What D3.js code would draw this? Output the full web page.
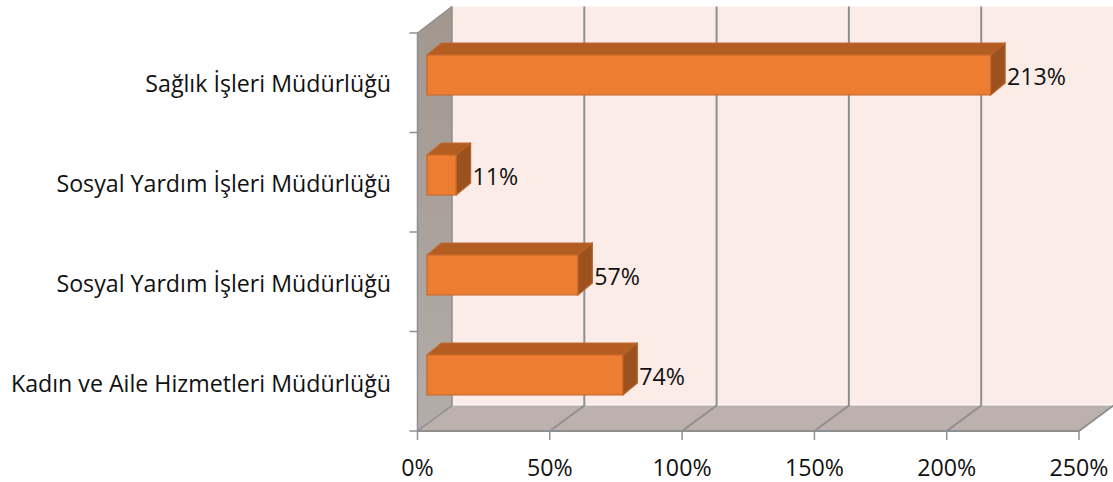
<!DOCTYPE html>
<html>
<head>
<meta charset="utf-8">
<script src="https://cdn.jsdelivr.net/npm/d3@7"></script>
<style>
  html, body { margin: 0; padding: 0; background: #fff; }
  text { font-family: "Open Sans", sans-serif; fill: #111; }
</style>
</head>
<body>
<div id="chart"></div>
<script>
// top to bottom, as in the picture
const categories = [
  "Sağlık İşleri Müdürlüğü",
  "Sosyal Yardım İşleri Müdürlüğü ",
  "Sosyal Yardım İşleri Müdürlüğü",
  "Kadın ve Aile Hizmetleri Müdürlüğü"
];
const values = [2.13, 0.11, 0.57, 0.74];
const tickValues = [0, 0.5, 1, 1.5, 2, 2.5];

const width = 1113, height = 482;
const floorY = 431, topY = 33;
const depthX = 34.5, depthY = 25.5;   // depth of the box
const barDX = 14.5, barDY = 12;       // depth of a bar
const fontSize = 23.2;

const svg = d3.select("#chart").append("svg")
  .attr("width", width).attr("height", height)
  .style("display", "block");

const x = d3.scaleLinear().domain([0, 2.5]).range([417.5, 1079]);
const y = d3.scaleBand().domain(categories).range([32, 432]);
const yTick = d3.scaleLinear().domain([0, categories.length]).range([topY, floorY]);
const poly = pts => pts.map(p => p.join(",")).join(" ");

const defs = svg.append("defs");
const wallGrad = defs.append("linearGradient").attr("id", "wall")
  .attr("x1", 0).attr("x2", 0).attr("y1", 0).attr("y2", 1);
wallGrad.append("stop").attr("offset", 0).attr("stop-color", "#a1978f");
wallGrad.append("stop").attr("offset", 1).attr("stop-color", "#b3aca8");

// back wall, floor, side wall
svg.append("rect")
  .attr("x", x(0) + depthX).attr("y", topY - depthY - 1)
  .attr("width", width - x(0) - depthX).attr("height", floorY - topY)
  .attr("fill", "#fbece8");
svg.append("polygon")
  .attr("points", poly([[x(0), floorY], [x(0) + depthX, floorY - depthY], [x(2.5) + depthX, floorY - depthY], [x(2.5), floorY]]))
  .attr("fill", "#bdb1ae");
svg.append("polygon")
  .attr("points", poly([[x(0), topY], [x(0) + depthX, topY - depthY - 1], [x(0) + depthX, floorY - depthY], [x(0), floorY]]))
  .attr("fill", "url(#wall)");

// gridlines: up the back wall and across the floor
const grid = svg.append("g").attr("fill", "none").attr("stroke", "#8f8f8f");
grid.selectAll("path").data(tickValues).join("path")
  .attr("stroke-width", d => d === 0 ? 1.5 : 2)
  .attr("d", d => d === 2.5
    ? `M${x(d)},${floorY}L${x(d) + depthX},${floorY - depthY}`
    : `M${x(d)},${floorY}L${x(d) + depthX},${floorY - depthY}L${x(d) + depthX},${topY - depthY - 1}`);

// wall and floor edges
svg.append("path")
  .attr("d", `M${x(0)},${floorY}L${x(0)},${topY}L${x(0) + depthX},${topY - depthY - 1}`)
  .attr("fill", "none").attr("stroke", "#8f8f8f").attr("stroke-width", 1.5);
svg.append("line")
  .attr("x1", x(0)).attr("x2", x(2.5)).attr("y1", floorY).attr("y2", floorY)
  .attr("stroke", "#8f8f8f").attr("stroke-width", 2);

// axis ticks
svg.append("g").attr("stroke", "#8f8f8f").attr("stroke-width", 1.5)
  .selectAll("line").data(tickValues).join("line")
  .attr("x1", d => x(d)).attr("x2", d => x(d))
  .attr("y1", floorY).attr("y2", floorY + 9);
svg.append("g").attr("stroke", "#8f8f8f").attr("stroke-width", 1.5)
  .selectAll("line").data(d3.range(categories.length + 1)).join("line")
  .attr("x1", x(0) - 8).attr("x2", x(0))
  .attr("y1", i => yTick(i)).attr("y2", i => yTick(i));

// bars
const barHeight = 40, barStart = 9.5;
const barTop = c => y(c) + y.bandwidth() / 2 - 27;
const bars = svg.append("g").selectAll("g")
  .data(categories.map((c, i) => ({ c, v: values[i] })))
  .join("g")
  .attr("stroke-width", 1.2).attr("stroke-linejoin", "round");

bars.append("polygon")
  .attr("points", d => {
    const x0 = x(0) + barStart, x1 = x(d.v) + barStart, t = barTop(d.c);
    return poly([[x0, t], [x0 + barDX, t - barDY], [x1 + barDX, t - barDY], [x1, t]]);
  })
  .attr("fill", "#b45d22").attr("stroke", "#bd6a33");
bars.append("polygon")
  .attr("points", d => {
    const x1 = x(d.v) + barStart, t = barTop(d.c);
    return poly([[x1, t], [x1 + barDX, t - barDY], [x1 + barDX, t - barDY + barHeight], [x1, t + barHeight]]);
  })
  .attr("fill", "#9c521e").attr("stroke", "#b7632a");
bars.append("rect")
  .attr("x", x(0) + barStart)
  .attr("y", d => barTop(d.c))
  .attr("width", d => x(d.v) - x(0))
  .attr("height", barHeight)
  .attr("fill", "#ed7d31").attr("stroke", "#c3662a");

// value labels
bars.append("text")
  .attr("x", d => x(d.v) + barStart + barDX + 2)
  .attr("y", d => barTop(d.c) + 30)
  .attr("font-size", fontSize)
  .text(d => Math.round(d.v * 100) + "%");

// category labels
svg.append("g").selectAll("text").data(categories).join("text")
  .attr("x", 391)
  .attr("y", c => y(c) + y.bandwidth() / 2 + 10)
  .attr("text-anchor", "end")
  .attr("font-size", fontSize)
  .text(c => c.trim());

// x labels
svg.append("g").selectAll("text").data(tickValues).join("text")
  .attr("x", d => x(d))
  .attr("y", 476)
  .attr("text-anchor", "middle")
  .attr("font-size", fontSize)
  .text(d => Math.round(d * 100) + "%");
</script>
</body>
</html>
